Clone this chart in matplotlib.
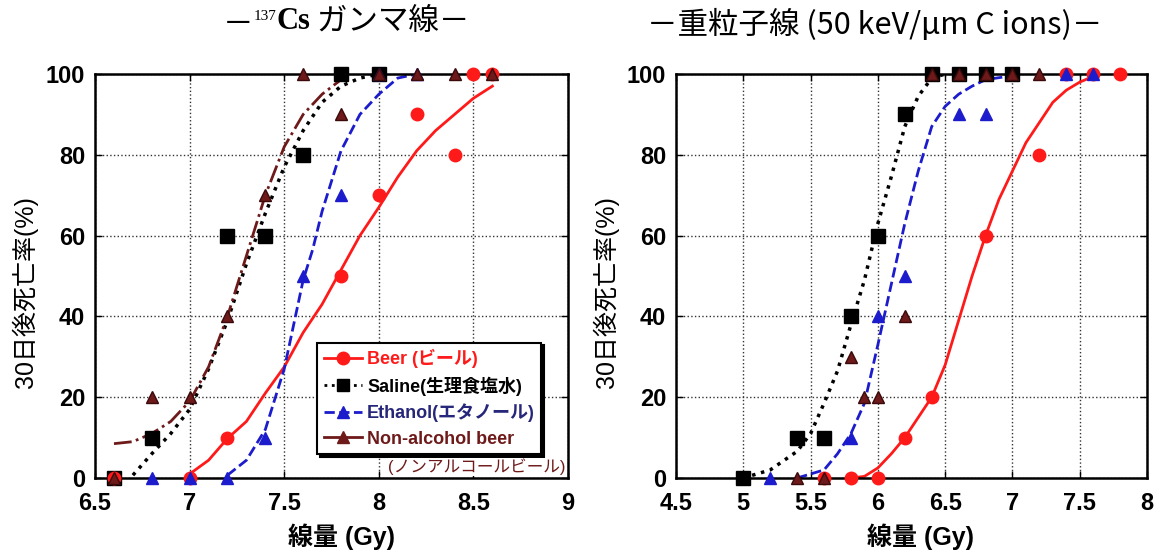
import matplotlib
matplotlib.use('Agg')
import matplotlib.pyplot as plt
from matplotlib.lines import Line2D

plt.rcParams['font.family'] = ['Liberation Sans', 'Noto Sans CJK JP']

# ---- 137Cs gamma (left) : measured points ----
gam_beer_x = [6.6, 7.0, 7.2, 7.8, 8.0, 8.2, 8.4, 8.5, 8.6]
gam_beer_y = [0, 0, 10, 50, 70, 90, 80, 100, 100]
gam_sal_x = [6.6, 6.8, 7.2, 7.4, 7.6, 7.8, 8.0]
gam_sal_y = [0, 10, 60, 60, 80, 100, 100]
gam_eth_x = [6.8, 7.0, 7.2, 7.4, 7.6, 7.8, 8.0, 8.2]
gam_eth_y = [0, 0, 0, 10, 50, 70, 100, 100]
gam_non_x = [6.6, 6.8, 7.0, 7.2, 7.4, 7.6, 7.8, 8.0, 8.2, 8.4, 8.6]
gam_non_y = [0, 20, 20, 40, 70, 100, 90, 100, 100, 100, 100]

# ---- 137Cs gamma : fitted curves ----
gfit_beer_x = [7.0, 7.1, 7.2, 7.3, 7.4, 7.5, 7.6, 7.7, 7.8, 7.9, 8.0, 8.1, 8.2, 8.3, 8.4, 8.5, 8.6]
gfit_beer_y = [1, 4.4, 9.8, 14, 21, 27.5, 36, 43, 51.5, 60, 67, 74.5, 81, 86, 90, 94, 97]
gfit_sal_x = [6.7, 6.8, 6.9, 7.0, 7.1, 7.2, 7.3, 7.4, 7.5, 7.6, 7.7, 7.8, 7.9, 8.0]
gfit_sal_y = [0.7, 6, 11, 17, 27, 39, 53, 65.5, 77, 86, 93, 97, 99, 100]
gfit_non_x = [6.6, 6.7, 6.8, 6.9, 7.0, 7.1, 7.2, 7.3, 7.4, 7.5, 7.6, 7.7, 7.8]
gfit_non_y = [8.5, 9, 11, 14, 19, 27.5, 40, 55, 70, 82, 90, 95, 98.6]
gfit_eth_x = [7.2, 7.3, 7.4, 7.5, 7.55, 7.6, 7.65, 7.7, 7.8, 7.9, 8.0, 8.1, 8.2]
gfit_eth_y = [0.7, 4.4, 12, 27, 38, 49, 56.5, 66, 81, 90, 95, 99, 100]

# ---- heavy ion (right) : measured points ----
ion_beer_x = [5.6, 5.8, 6.0, 6.2, 6.4, 6.8, 7.2, 7.4, 7.6, 7.8]
ion_beer_y = [0, 0, 0, 10, 20, 60, 80, 100, 100, 100]
ion_sal_x = [5.0, 5.4, 5.6, 5.8, 6.0, 6.2, 6.4, 6.6, 6.8, 7.0]
ion_sal_y = [0, 10, 10, 40, 60, 90, 100, 100, 100, 100]
ion_eth_x = [5.2, 5.8, 6.0, 6.2, 6.6, 6.8, 7.4, 7.6]
ion_eth_y = [0, 10, 40, 50, 90, 90, 100, 100]
ion_non_x = [5.4, 5.6, 5.8, 5.9, 6.0, 6.2, 6.4, 6.6, 6.8, 7.0, 7.2]
ion_non_y = [0, 0, 30, 20, 20, 40, 100, 100, 100, 100, 100]

# ---- heavy ion : fitted curves ----
ifit_sal_x = [5.0, 5.2, 5.4, 5.5, 5.6, 5.7, 5.8, 5.9, 6.0, 6.1, 6.2, 6.3, 6.4, 6.5]
ifit_sal_y = [0, 2, 6.6, 11, 18.5, 26.5, 38, 49, 63, 74.6, 87, 94.5, 99, 100]
ifit_eth_x = [5.4, 5.6, 5.7, 5.8, 5.9, 6.0, 6.1, 6.2, 6.3, 6.4, 6.5, 6.6, 6.7, 6.8, 7.0]
ifit_eth_y = [0, 2, 6, 11, 18.5, 33, 48, 63, 76, 87, 92, 95, 97, 98.6, 99.6]
ifit_beer_x = [5.8, 5.9, 6.0, 6.1, 6.2, 6.3, 6.4, 6.5, 6.6, 6.7, 6.8, 6.9, 7.0, 7.1, 7.2, 7.3, 7.4, 7.5, 7.6]
ifit_beer_y = [0, 0.4, 2.5, 6, 10, 15, 20, 28, 39, 50, 60, 69, 76, 83, 88, 93, 96, 98, 99.4]

RED = '#ff1a1a'
BLUE = '#1c1ccc'
NAVY = '#26267a'
DRED = '#6e1a1a'

fig = plt.figure(figsize=(11.55, 5.5), dpi=100)
ax1 = fig.add_axes([0.0823, 0.1309, 0.4095, 0.7345])
ax2 = fig.add_axes([0.5853, 0.1309, 0.4078, 0.7345])


def style(ax, xlim, xticks):
    ax.set_xlim(xlim)
    ax.set_ylim(0, 100)
    ax.set_xticks(xticks)
    ax.set_xticklabels([f'{t:g}' for t in xticks])
    ax.set_yticks([0, 20, 40, 60, 80, 100])
    ax.grid(True, linestyle=':', color='#333333', linewidth=1.0)
    ax.tick_params(direction='in', top=True, right=True, length=5, width=1,
                   labelsize=17)
    ax.tick_params(axis='x', pad=10)
    ax.tick_params(axis='y', pad=7)
    for lab in ax.get_xticklabels() + ax.get_yticklabels():
        lab.set_fontweight('bold')
    for sp in ax.spines.values():
        sp.set_linewidth(1.8)
    ax.set_xlabel('線量 (Gy)', fontsize=18, fontweight='bold', va='center')
    ax.xaxis.set_label_coords(0.52, -0.145)
    ax.set_ylabel('30日後死亡率(%)', fontsize=18, va='center')
    ax.yaxis.set_label_coords(-0.148, 0.46)


# left panel
ax1.plot(gfit_beer_x, gfit_beer_y, '-', color=RED, lw=2)
ax1.plot(gfit_sal_x, gfit_sal_y, ':', color='black', lw=2.5)
ax1.plot(gfit_non_x, gfit_non_y, '-.', color=DRED, lw=2)
ax1.plot(gfit_eth_x, gfit_eth_y, '--', color=BLUE, lw=2)
ax1.plot(gam_sal_x, gam_sal_y, 's', color='black', ms=10, clip_on=False, zorder=5)
ax1.plot(gam_beer_x, gam_beer_y, 'o', color=RED, ms=9, clip_on=False, zorder=5)
ax1.plot(gam_eth_x, gam_eth_y, '^', color=BLUE, ms=9, clip_on=False, zorder=5)
ax1.plot(gam_non_x, gam_non_y, '^', mfc=DRED, mec='#3a0a0a', ms=8, clip_on=False, zorder=5)
style(ax1, (6.5, 9), [6.5, 7, 7.5, 8, 8.5, 9])

# right panel
ax2.plot(ifit_beer_x, ifit_beer_y, '-', color=RED, lw=2)
ax2.plot(ifit_sal_x, ifit_sal_y, ':', color='black', lw=2.5)
ax2.plot(ifit_eth_x, ifit_eth_y, '--', color=BLUE, lw=2)
ax2.plot(ion_sal_x, ion_sal_y, 's', color='black', ms=10, clip_on=False, zorder=5)
ax2.plot(ion_beer_x, ion_beer_y, 'o', color=RED, ms=9, clip_on=False, zorder=5)
ax2.plot(ion_eth_x, ion_eth_y, '^', color=BLUE, ms=9, clip_on=False, zorder=5)
ax2.plot(ion_non_x, ion_non_y, '^', mfc=DRED, mec='#3a0a0a', ms=8, clip_on=False, zorder=5)
style(ax2, (4.5, 8), [4.5, 5, 5.5, 6, 6.5, 7, 7.5, 8])

# legend (left panel)
handles = [
    Line2D([], [], color=RED, ls='-', lw=2, marker='o', ms=9),
    Line2D([], [], color='black', ls=':', lw=2, marker='s', ms=9),
    Line2D([], [], color=BLUE, ls='--', lw=2, marker='^', ms=9),
    Line2D([], [], color=DRED, ls='-', lw=2, marker='^', ms=9),
]
labels = ['Beer (ビール)', 'Saline(生理食塩水)', 'Ethanol(エタノール)', 'Non-alcohol beer']
leg = ax1.legend(handles, labels, loc='upper left', bbox_to_anchor=(0.47, 0.335),
                 fontsize=13, labelcolor=[RED, 'black', NAVY, DRED],
                 frameon=True, fancybox=False, edgecolor='black', framealpha=1,
                 shadow={'color': 'black', 'alpha': 1}, handlelength=2.1,
                 handletextpad=0.3, labelspacing=0.45, borderpad=0.35,
                 borderaxespad=0)
leg.get_frame().set_linewidth(1.5)
for t in leg.get_texts():
    t.set_fontweight('bold')
leg.set_zorder(10)
ax1.text(0.62, 0.028, '(ノンアルコールビール)', transform=ax1.transAxes, fontsize=12,
         color=DRED, ha='left', va='center', clip_on=False, zorder=11,
         bbox=dict(facecolor='white', edgecolor='none', pad=0.5))

# titles
t0 = fig.text(0.193, 0.955, '－', fontsize=22, family='Noto Sans CJK JP', va='center')
t1 = ax1.annotate('137', xy=(1, 0.55), xycoords=t0, fontsize=11,
                  family='Liberation Serif', va='bottom', annotation_clip=False)
t2 = ax1.annotate('Cs', xy=(1, 0.15), xycoords=t1, fontsize=22, family='Liberation Serif',
                  fontweight='bold', va='center', annotation_clip=False)
ax1.annotate(' ガンマ線－', xy=(1, 0.5), xycoords=t2, fontsize=22,
             family='Noto Sans CJK JP', va='center', annotation_clip=False)
fig.text(0.757, 0.955, '－重粒子線 (50 keV/μm C ions)－', fontsize=22,
         family='Noto Sans CJK JP', ha='center', va='center')

fig.savefig('out.png', dpi=100)
